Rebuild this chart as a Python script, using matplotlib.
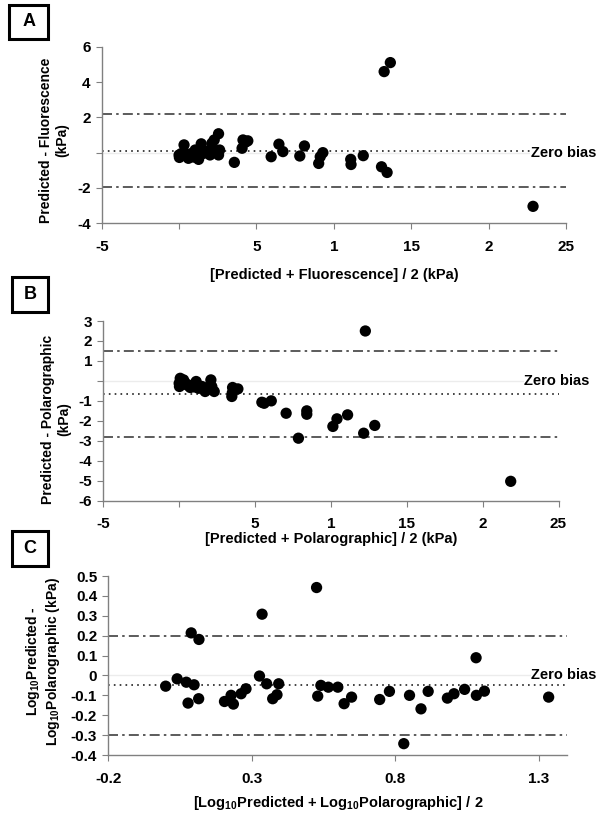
import matplotlib
matplotlib.use("Agg")
import matplotlib.pyplot as plt
from matplotlib.patches import Rectangle

plt.rcParams["font.family"] = ["Liberation Sans", "DejaVu Sans"]
plt.rcParams["font.weight"] = "bold"
plt.rcParams["mathtext.fontset"] = "custom"
plt.rcParams["mathtext.bf"] = "Liberation Sans:bold"
plt.rcParams["mathtext.rm"] = "Liberation Sans:bold"
plt.rcParams["mathtext.default"] = "bf"

# Panel A: predicted vs fluorescence (kPa)
a_mean = [0.0, 0.02, 0.15, 0.32, 0.39, 0.5, 0.6, 0.82, 0.95, 1.04, 1.1, 1.26, 1.43,
          1.58, 1.65, 1.8, 2.0, 2.12, 2.27, 2.3, 2.55, 2.62, 2.55, 3.57, 4.07, 4.13,
          4.3, 4.44, 5.95, 6.45, 6.71, 7.8, 8.1, 9.02, 9.12, 9.29, 11.09, 11.11,
          11.9, 13.08, 13.44, 13.25, 13.65, 22.87]
a_diff = [-0.13, -0.27, -0.05, 0.44, -0.04, -0.15, -0.32, -0.04, -0.25, 0.15, -0.2,
          -0.38, 0.5, -0.04, 0.1, 0.06, -0.13, 0.53, 0.72, 0.05, 1.07, 0.15, -0.13,
          -0.55, 0.25, 0.72, 0.6, 0.67, -0.23, 0.48, 0.06, -0.19, 0.38, -0.61, -0.23,
          0.0, -0.38, -0.67, -0.17, -0.8, -1.12, 4.59, 5.1, -3.04]
a_bias = 0.1
a_limits = [2.17, -1.97]

# Panel B: predicted vs polarographic (kPa)
b_mean = [0.07, 0.0, 0.02, 0.29, 0.4, 0.5, 0.73, 0.9, 1.0, 1.12, 1.27, 1.5, 1.71, 1.8,
          2.09, 2.15, 2.31, 3.47, 3.5, 3.52, 3.87, 5.45, 5.6, 6.07, 7.05, 7.86, 8.41,
          8.41, 10.13, 10.4, 11.1, 12.16, 12.89, 12.27, 21.85]
b_diff = [0.13, -0.12, -0.28, 0.05, -0.1, -0.2, -0.33, -0.2, -0.3, -0.03, -0.37, -0.28,
          -0.53, -0.35, 0.05, -0.28, -0.53, -0.78, -0.6, -0.33, -0.4, -1.07, -1.12,
          -1.0, -1.62, -2.87, -1.5, -1.67, -2.28, -1.9, -1.7, -2.62, -2.23, 2.5, -5.03]
b_bias = -0.65
b_limits = [1.52, -2.82]

# Panel C: log10 predicted vs log10 polarographic
c_mean = [0.0, 0.04, 0.072, 0.078, 0.089, 0.099, 0.116, 0.115, 0.205, 0.228, 0.236,
          0.263, 0.28, 0.327, 0.336, 0.352, 0.373, 0.388, 0.394, 0.526, 0.53, 0.541,
          0.567, 0.6, 0.622, 0.648, 0.746, 0.78, 0.83, 0.85, 0.89, 0.915, 0.982,
          1.005, 1.042, 1.082, 1.083, 1.111, 1.335]
c_diff = [-0.054, -0.017, -0.034, -0.139, 0.214, -0.047, 0.181, -0.117, -0.131, -0.1,
          -0.144, -0.092, -0.067, -0.003, 0.308, -0.042, -0.117, -0.097, -0.042, 0.442,
          -0.104, -0.05, -0.059, -0.059, -0.142, -0.109, -0.121, -0.08, -0.343, -0.1,
          -0.168, -0.08, -0.114, -0.092, -0.07, 0.089, -0.1, -0.079, -0.109]
c_bias = -0.05
c_limits = [0.2, -0.3]

kpa_ticks = [-5, 0, 5, 10, 15, 20, 25]
kpa_labels = ["-5", "", "5", "1", "15", "2", "25"]

W, H = 599, 813
fig = plt.figure(figsize=(W / 100, H / 100), dpi=100)


def px_axes(left, right, top, bottom):
    return fig.add_axes([left / W, 1 - bottom / H, (right - left) / W, (bottom - top) / H])


def bland_altman(ax, x, y, bias, limits, xlim):
    ax.axhline(0, color="#ececec", lw=1.0, zorder=1)
    for lim in limits:
        ax.axhline(lim, color="#404040", lw=1.2, dashes=(6, 2.5, 1.5, 2.5), zorder=2)
    ax.axhline(bias, color="#222222", lw=1.2, dashes=(1, 2.5), zorder=2)
    ax.scatter(x, y, s=66, color="black", edgecolors="none", zorder=3)
    ax.set_xlim(*xlim)
    for side in ["top", "right"]:
        ax.spines[side].set_visible(False)
    for side in ["left", "bottom"]:
        ax.spines[side].set_color("#808080")
        ax.spines[side].set_linewidth(1.0)
    ax.tick_params(axis="both", color="#808080", length=4, labelsize=11)
    ax.tick_params(axis="x", pad=8)
    ax.tick_params(axis="y", pad=4)
    ax.text(1.0, 0, "Zero bias", transform=ax.get_yaxis_transform(), fontsize=10.5,
            ha="left", va="center", zorder=4, clip_on=False,
            bbox=dict(facecolor="white", edgecolor="none", pad=0.5))


def panel_letter(letter, left, right, top, bottom):
    fig.patches.append(Rectangle((left / W, 1 - bottom / H), (right - left) / W,
                                 (bottom - top) / H, transform=fig.transFigure,
                                 fill=False, edgecolor="black", lw=2.2))
    fig.text((left + right) / 2 / W, 1 - (top + bottom) / 2 / H, letter,
             fontsize=13, ha="center", va="center")


# A
ax_a = px_axes(101.7, 566, 46.7, 223.3)
bland_altman(ax_a, a_mean, a_diff, a_bias, a_limits, (-5, 25))
ax_a.set_ylim(-4, 6)
ax_a.set_yticks([-4, -2, 0, 2, 4, 6])
ax_a.set_yticklabels(["-4", "-2", "", "2", "4", "6"])
ax_a.set_xticks(kpa_ticks)
ax_a.set_xticklabels(kpa_labels)
ax_a.texts[0].set_x(0.925)
fig.text(54 / W, 1 - 140 / H, "Predicted - Fluorescence\n(kPa)", rotation=90,
         ha="center", va="center", multialignment="center", fontsize=10)
fig.text(334 / W, 1 - 275 / H, "[Predicted + Fluorescence] / 2 (kPa)",
         ha="center", va="center", fontsize=10.5)
panel_letter("A", 9.3, 48.3, 5, 39)

# B
ax_b = px_axes(103.3, 558.5, 321, 500.7)
bland_altman(ax_b, b_mean, b_diff, b_bias, b_limits, (-5, 25))
ax_b.set_ylim(-6, 3)
ax_b.set_yticks(range(-6, 4))
ax_b.set_yticklabels(["-6", "-5", "-4", "-3", "-2", "-1", "", "1", "2", "3"])
ax_b.set_xticks(kpa_ticks)
ax_b.set_xticklabels(kpa_labels)
ax_b.texts[0].set_x(0.925)
fig.text(56 / W, 1 - 419 / H, "Predicted - Polarographic\n(kPa)", rotation=90,
         ha="center", va="center", multialignment="center", fontsize=10)
fig.text(331 / W, 1 - 539 / H, "[Predicted + Polarographic] / 2 (kPa)",
         ha="center", va="center", fontsize=10.5)
panel_letter("B", 11.7, 48.3, 277, 312)

# C
ax_c = px_axes(108.3, 567.3, 576, 755)
bland_altman(ax_c, c_mean, c_diff, c_bias, c_limits, (-0.2, 1.4))
ax_c.set_ylim(-0.4, 0.5)
ax_c.set_yticks([-0.4, -0.3, -0.2, -0.1, 0, 0.1, 0.2, 0.3, 0.4, 0.5])
ax_c.set_yticklabels(["-0.4", "-0.3", "-0.2", "-0.1", "0", "0.1", "0.2", "0.3", "0.4", "0.5"])
ax_c.set_xticks([-0.2, 0.3, 0.8, 1.3])
ax_c.set_xticklabels(["-0.2", "0.3", "0.8", "1.3"])
ax_c.texts[0].set_x(0.922)
fig.text(43 / W, 1 - 661 / H, "Log$_{10}$Predicted -\nLog$_{10}$Polarographic (kPa)",
         rotation=90, ha="center", va="center", multialignment="center", fontsize=10)
fig.text(338 / W, 1 - 803 / H, "[Log$_{10}$Predicted + Log$_{10}$Polarographic] / 2",
         ha="center", va="center", fontsize=10.5)
panel_letter("C", 11.7, 48.3, 530.7, 565.7)

fig.savefig("out.png", dpi=100, facecolor="white")
